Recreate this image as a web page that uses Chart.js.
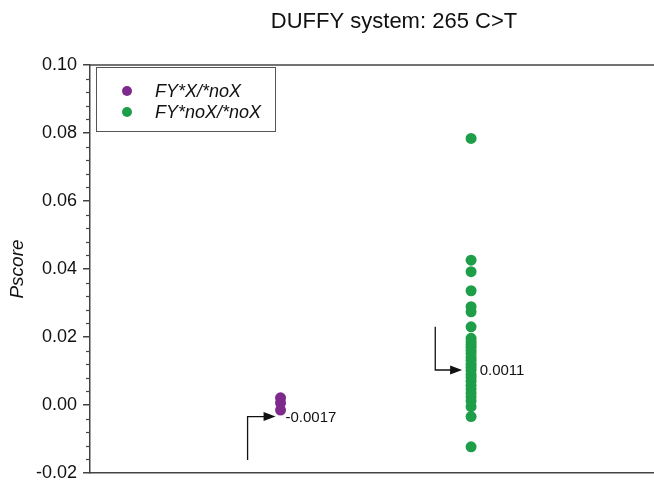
<!DOCTYPE html>
<html>
<head>
<meta charset="utf-8">
<script src="https://cdn.jsdelivr.net/npm/chart.js@4/dist/chart.umd.min.js"></script>
<style>
  html, body { margin: 0; padding: 0; background: #fff; }
  #chart { display: block; }
</style>
</head>
<body>
<canvas id="chart" width="654" height="483"></canvas>
<script>
// ==============================
// DATA
// ==============================
const groups = ["FY*X/*noX", "FY*noX/*noX"];
const groupX = [1, 2];
const groupColors = ["#7d2a8c", "#1f9e49"];

const fyXnoX = [0.0021, 0.0006, -0.0015];
const fyNoXnoX = [
  0.0784, 0.0426, 0.0392, 0.0336, 0.0289, 0.0274, 0.0230,
  0.0196, 0.0187, 0.0178, 0.0170, 0.0160, 0.0151, 0.0140, 0.0131,
  0.0120, 0.0111, 0.0102, 0.0090, 0.0081, 0.0070, 0.0058, 0.0047,
  0.0035, 0.0024, 0.0012, -0.0005, -0.0034, -0.0123
];

const yTicks = { min: -0.02, max: 0.10, step: 0.02, minorStep: 0.004 };

// median arrows (data units)
const arrowLabels = ["-0.0017", "0.0011"];
const arrowCornerX = [0.827, 1.812];
const arrowStartY = [-0.0162, 0.0230];
const arrowCornerY = [-0.0034, 0.0103];
const arrowTipX = [0.974, 1.953];
const arrowLabelX = [1.026, 2.045];

const FONT = '"Liberation Sans", Arial, sans-serif';

// ==============================
// PLUGIN: frame, minor ticks, title, legend, arrows
// ==============================
const decorPlugin = {
  id: "decor",
  afterDraw(chart) {
    const ctx = chart.ctx;
    const area = chart.chartArea;
    const xs = chart.scales.x;
    const ys = chart.scales.y;
    ctx.save();

    // top frame line
    ctx.strokeStyle = "#444";
    ctx.lineWidth = 1.5;
    ctx.beginPath();
    ctx.moveTo(area.left, area.top);
    ctx.lineTo(chart.width, area.top);
    ctx.stroke();

    // minor ticks
    const n = Math.round((yTicks.max - yTicks.min) / yTicks.minorStep);
    const every = Math.round(yTicks.step / yTicks.minorStep);
    ctx.lineWidth = 1.2;
    for (let i = 0; i <= n; i++) {
      if (i % every === 0) continue;
      const py = Math.round(ys.getPixelForValue(yTicks.min + i * yTicks.minorStep)) + 0.5;
      ctx.beginPath();
      ctx.moveTo(area.left - 4, py);
      ctx.lineTo(area.left, py);
      ctx.stroke();
    }

    // title
    ctx.fillStyle = "#111";
    ctx.font = "22px " + FONT;
    ctx.textAlign = "center";
    ctx.textBaseline = "middle";
    ctx.fillText("DUFFY system: 265 C>T", 394, 22);

    // legend box
    ctx.strokeStyle = "#555";
    ctx.lineWidth = 1;
    ctx.strokeRect(96.5, 67.5, 179, 64);
    ctx.font = "italic 18px " + FONT;
    ctx.textAlign = "left";
    chart.data.datasets.forEach((ds, i) => {
      const ly = 91 + i * 21;
      ctx.fillStyle = ds.backgroundColor;
      ctx.beginPath();
      ctx.arc(127, ly, 5, 0, Math.PI * 2);
      ctx.fill();
      ctx.fillStyle = "#111";
      ctx.fillText(ds.label, 155, ly + 1);
    });

    // median arrows
    ctx.strokeStyle = "#111";
    ctx.fillStyle = "#111";
    ctx.lineWidth = 1.3;
    ctx.font = "15px " + FONT;
    ctx.textBaseline = "middle";
    arrowLabels.forEach((label, i) => {
      const cx = xs.getPixelForValue(arrowCornerX[i]);
      const sy = ys.getPixelForValue(arrowStartY[i]);
      const cy = ys.getPixelForValue(arrowCornerY[i]);
      const tx = xs.getPixelForValue(arrowTipX[i]);
      ctx.beginPath();
      ctx.moveTo(cx, sy);
      ctx.lineTo(cx, cy);
      ctx.lineTo(tx - 10, cy);
      ctx.stroke();
      ctx.beginPath();
      ctx.moveTo(tx, cy);
      ctx.lineTo(tx - 12, cy - 4.5);
      ctx.lineTo(tx - 12, cy + 4.5);
      ctx.closePath();
      ctx.fill();
      ctx.fillText(label, xs.getPixelForValue(arrowLabelX[i]), cy + 1);
    });

    ctx.restore();
  }
};

// ==============================
// CHART
// ==============================
const seriesValues = [fyXnoX, fyNoXnoX];

new Chart(document.getElementById("chart"), {
  type: "scatter",
  data: {
    datasets: groups.map((g, i) => ({
      label: g,
      data: seriesValues[i].map(v => ({ x: groupX[i], y: v })),
      backgroundColor: groupColors[i],
      borderWidth: 0,
      pointRadius: 5.5,
      pointHoverRadius: 5.5
    }))
  },
  options: {
    responsive: false,
    devicePixelRatio: 1,
    animation: false,
    layout: { autoPadding: false, padding: { top: 65, bottom: 10, left: 0, right: 0 } },
    plugins: {
      legend: { display: false },
      tooltip: { enabled: false },
      title: { display: false }
    },
    scales: {
      x: {
        type: "linear",
        min: 0,
        max: 2.96,
        ticks: { display: false },
        grid: { display: false },
        border: { display: true, color: "#444", width: 1.5 },
        afterFit: s => {
          s.height = 0;
          s.paddingLeft = 0;
          s.paddingRight = 0;
        }
      },
      y: {
        min: yTicks.min,
        max: yTicks.max,
        ticks: {
          stepSize: yTicks.step,
          callback: v => v.toFixed(2),
          color: "#111",
          font: { family: FONT, size: 18 },
          padding: 6
        },
        grid: { drawOnChartArea: false, drawTicks: true, tickLength: 7, color: "#444", lineWidth: 1.5 },
        border: { display: true, color: "#444", width: 1.5 },
        title: {
          display: true,
          text: "Pscore",
          color: "#111",
          font: { family: FONT, size: 19, style: "italic" },
          padding: { top: 6, bottom: 0 }
        },
        afterFit: s => {
          s.width = 90;
          s.paddingTop = 0;
          s.paddingBottom = 0;
        }
      }
    }
  },
  plugins: [decorPlugin]
});
</script>
</body>
</html>
